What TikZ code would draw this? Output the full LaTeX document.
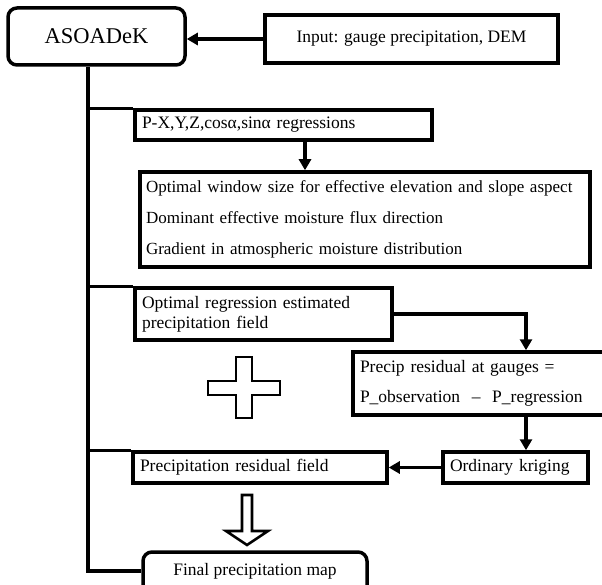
\documentclass[tikz,border=0pt]{standalone}
\usepackage{fontspec}
\setmainfont{Liberation Serif}
\usetikzlibrary{arrows.meta}
\begin{document}
\begin{tikzpicture}[x=1pt,y=-1pt,
  box/.style={draw, line width=3.5pt, inner sep=0pt, font=\fontsize{17.5}{21}\selectfont},
  lbox/.style={box, align=left, inner xsep=7pt},
  conn/.style={line width=3.3pt},
  arr/.style={conn, -{Triangle[length=11pt,width=12pt]}},
  hollow/.style={draw, line width=2.6pt, line join=miter},
]
\useasboundingbox (0,0) rectangle (602,585);

% nodes
\node[box, rounded corners=9pt, minimum width=177pt, minimum height=57pt,
      font=\fontsize{22.5}{27}\selectfont] (aso) at (96.5,36.5) {ASOADeK};
\node[box, minimum width=293pt, minimum height=48pt] (inp) at (411.5,39)
  {Input: gauge precipitation, DEM};
\node[lbox, text width=283pt, minimum height=30pt] (px) at (283.5,125)
  {P-X,Y,Z,cosα,sinα regressions};
\node[lbox, inner xsep=6pt, text width=438pt, minimum height=95pt,
      font=\fontsize{17}{31}\selectfont] (big) at (365,219.5)
  {\mbox{Optimal window size for effective elevation and slope aspect}\\
   \mbox{Dominant effective moisture flux direction}\\
   \mbox{Gradient in atmospheric moisture distribution}};
\node[lbox, text width=243pt, minimum height=52pt,
      font=\fontsize{17.5}{20}\selectfont] (optreg) at (263.5,314)
  {Optimal regression estimated\\precipitation field};
\node[lbox, text width=239pt, minimum height=63pt,
      font=\fontsize{17.5}{30}\selectfont] (precres) at (479.5,383.5)
  {Precip residual at gauges =\\P\_observation\ \ –\ \ P\_regression};
\node[lbox, text width=131pt, minimum height=31pt] (krig) at (515.5,467.5)
  {Ordinary kriging};
\node[lbox, text width=240pt, minimum height=31pt] (resf) at (260,467.5)
  {Precipitation residual field};
\node[box, rounded corners=9pt, minimum width=224pt, minimum height=46pt] (final) at (255,575) {};
\node[font=\fontsize{17.5}{21}\selectfont, inner sep=0pt] (ftext) at (255,571)
  {Final precipitation map};

% helper coordinates
\coordinate (tk) at (88,0);
\coordinate (ax) at (526,0);
\coordinate (bx) at (305,0);

% connectors
\draw[arr] (inp.west) -- (inp.west -| aso.east);
\draw[conn] (aso.south -| tk) |- (ftext.west -| final.west);
\draw[conn] (tk |- px.north west) -- (px.north west);
\draw[conn] (tk |- optreg.north west) -- (optreg.north west);
\draw[conn] (tk |- resf.north west) -- (resf.north west);
\draw[arr] (bx |- px.south) -- (bx |- big.north);
\draw[arr] (optreg.east) -| (ax |- precres.north);
\draw[arr] (ax |- precres.south) -- (ax |- krig.north);
\draw[arr] (krig.west) -- (resf.east);

% plus sign
\draw[hollow] (236,357) -- (252,357) -- (252,381) -- (280,381) -- (280,395)
  -- (252,395) -- (252,418) -- (236,418) -- (236,395) -- (208,395)
  -- (208,381) -- (236,381) -- cycle;

% hollow down arrow
\draw[hollow] (242,495) -- (252,495) -- (252,531) -- (268,531) -- (247,545)
  -- (226,531) -- (242,531) -- cycle;
\end{tikzpicture}
\end{document}
